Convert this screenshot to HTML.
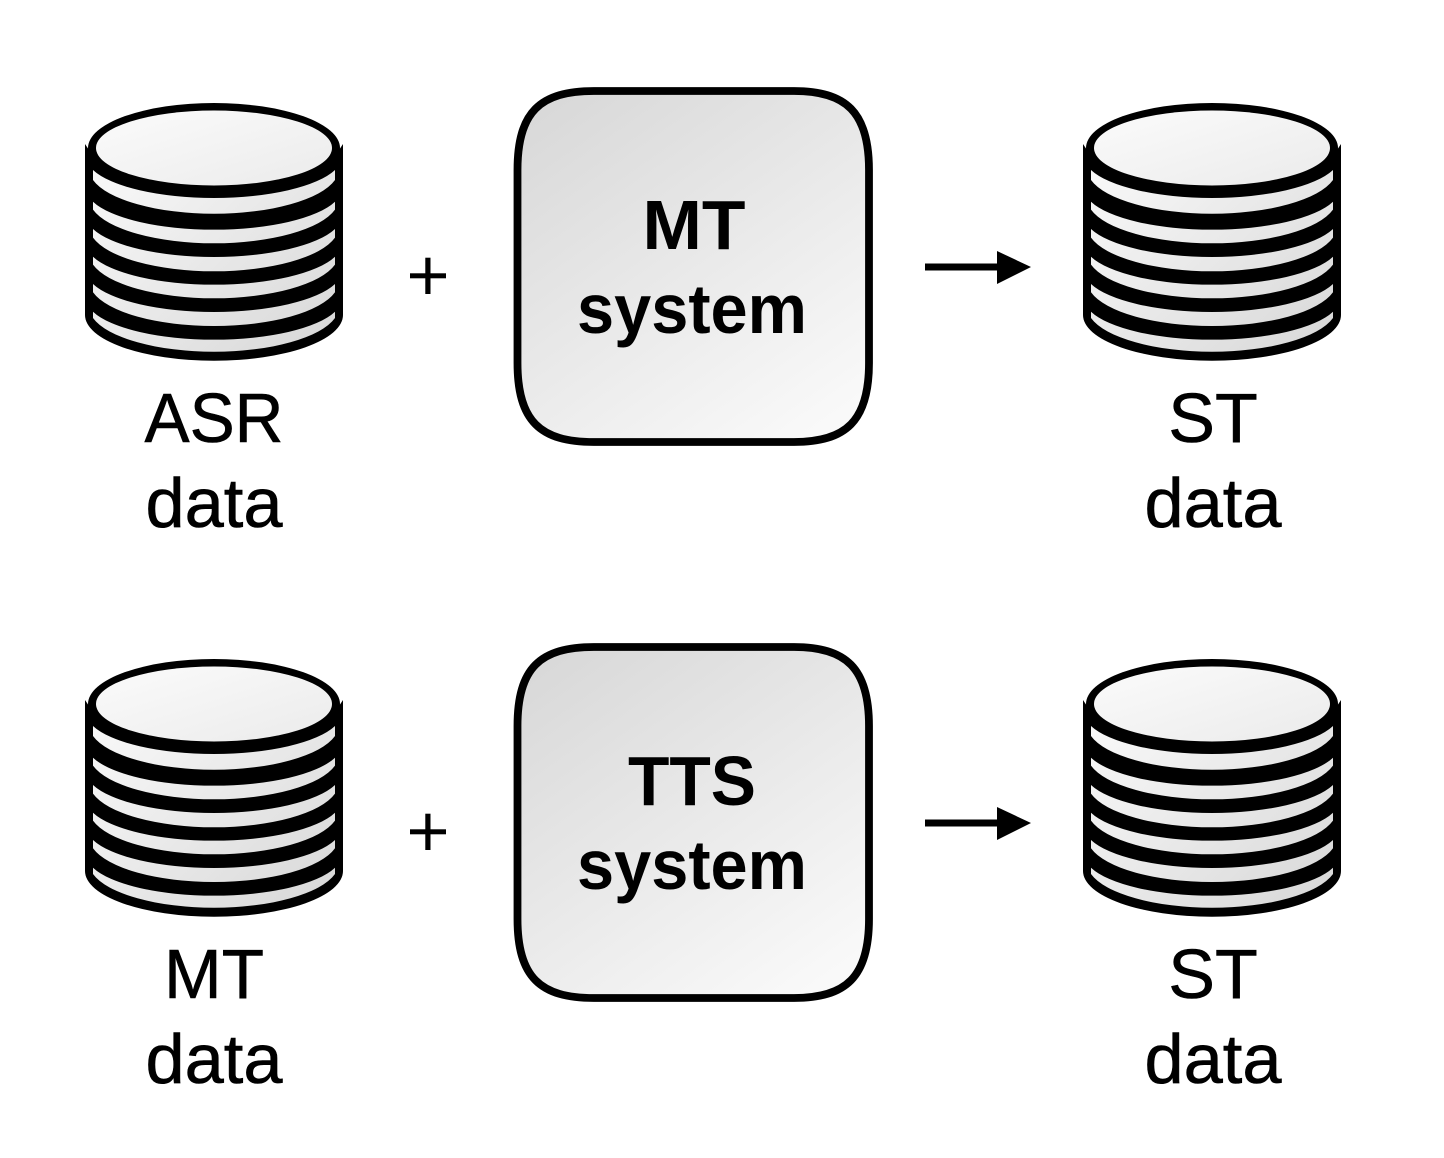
<!DOCTYPE html>
<html><head><meta charset="utf-8"><style>
html,body{margin:0;padding:0;background:#fff}
svg{display:block}
text{font-family:"Liberation Sans",Arial,sans-serif;font-size:70px;fill:#000;stroke:#000;stroke-width:.6px;text-anchor:middle}
.b{font-weight:bold;stroke-width:0}
</style></head><body>
<svg width="1444" height="1158" viewBox="0 0 1444 1158" xmlns="http://www.w3.org/2000/svg">
<defs>
<linearGradient id="top" x1="0" y1="0" x2="1" y2="1"><stop offset="0" stop-color="#fbfbfb"/><stop offset="1" stop-color="#ebebeb"/></linearGradient>
<linearGradient id="body" gradientUnits="userSpaceOnUse" x1="110" y1="160" x2="290" y2="360"><stop offset="0" stop-color="#f8f8f8"/><stop offset="1" stop-color="#dadada"/></linearGradient>
<linearGradient id="box" x1="0.1" y1="0" x2="0.8" y2="1"><stop offset="0" stop-color="#d8d8d8"/><stop offset="1" stop-color="#f9f9f9"/></linearGradient>
<g id="cyl">
<path d="M85,144 L89,150 L339,150 L343,144 L343,315 A129,45.7 0 0 1 85,315 Z" fill="#000"/>
<ellipse cx="214" cy="148" rx="126" ry="45" fill="#000"/>
<ellipse cx="214" cy="148" rx="118" ry="37.5" fill="url(#top)"/>
<g fill="url(#body)">
<path d="M93,170 A128,41.5 0 0 0 335,170 L335,180 A125,45 0 0 1 93,180 Z"/>
<path d="M93,201.7 A128,41.5 0 0 0 335,201.7 L335,209.6 A125,45 0 0 1 93,209.6 Z"/>
<path d="M93,229 A128,41.5 0 0 0 335,229 L335,237.6 A125,45 0 0 1 93,237.6 Z"/>
<path d="M93,256.7 A128,41.5 0 0 0 335,256.7 L335,264.6 A125,45 0 0 1 93,264.6 Z"/>
<path d="M93,284 A128,41.5 0 0 0 335,284 L335,292.3 A125,45 0 0 1 93,292.3 Z"/>
<path d="M93,311.7 A128,41.5 0 0 0 335,311.7 L335,318 A125,45 0 0 1 93,318 Z"/>
</g>
</g>
<g id="boxg">
<path d="M594,91 L794,91 C846,91 869,112 869,170 L869,363 C869,421 846,442 794,442 L594,442 C540,442 517.5,421 517.5,363 L517.5,170 C517.5,112 540,91 594,91 Z" fill="url(#box)" stroke="#000" stroke-width="7.8"/>
<rect x="925" y="263.5" width="73" height="7"/>
<path d="M997,251 L1031,267 L997,284 Z"/>
<rect x="410" y="273.3" width="36" height="5"/>
<rect x="425.3" y="257.7" width="5.2" height="36.3"/>
</g>
</defs>
<rect width="1444" height="1158" fill="#fff"/>
<use href="#cyl"/>
<use href="#cyl" x="998"/>
<use href="#cyl" y="556"/>
<use href="#cyl" x="998" y="556"/>
<use href="#boxg"/>
<use href="#boxg" y="556"/>
<text x="214" y="442" textLength="139" lengthAdjust="spacingAndGlyphs">ASR</text>
<text x="214" y="527" textLength="137" lengthAdjust="spacingAndGlyphs">data</text>
<text x="1213" y="442">ST</text>
<text x="1213" y="527" textLength="137" lengthAdjust="spacingAndGlyphs">data</text>
<text x="214" y="998" textLength="100" lengthAdjust="spacingAndGlyphs">MT</text>
<text x="214" y="1083" textLength="137" lengthAdjust="spacingAndGlyphs">data</text>
<text x="1213" y="998">ST</text>
<text x="1213" y="1083" textLength="137" lengthAdjust="spacingAndGlyphs">data</text>
<text class="b" x="694" y="249" textLength="103" lengthAdjust="spacingAndGlyphs">MT</text>
<text class="b" x="692" y="333" textLength="230" lengthAdjust="spacingAndGlyphs">system</text>
<text class="b" x="692" y="805" textLength="128" lengthAdjust="spacingAndGlyphs">TTS</text>
<text class="b" x="692" y="889" textLength="230" lengthAdjust="spacingAndGlyphs">system</text>
</svg>
</body></html>
